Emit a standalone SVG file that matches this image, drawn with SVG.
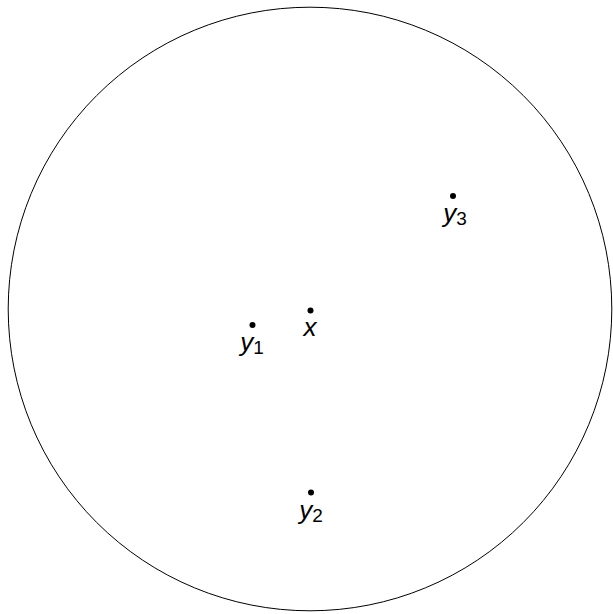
<svg xmlns="http://www.w3.org/2000/svg" width="613" height="614" viewBox="0 0 613 614">
<style>
.lbl{font-family:Arial,"Liberation Sans",sans-serif;font-style:italic;font-size:26px;fill:#000;text-anchor:middle}
.sub{font-style:normal;font-size:19px}
.dot{fill:#000}
</style>
<rect width="613" height="614" fill="#fff"/>
<circle cx="310" cy="309" r="301.8" fill="none" stroke="#000" stroke-width="1"/>
<g id="x"><circle class="dot" cx="310.5" cy="310.5" r="3"/><text class="lbl" x="310" y="336">x</text></g>
<g id="y1"><circle class="dot" cx="252.5" cy="325" r="3"/><text class="lbl" x="252" y="351">y<tspan class="sub" dy="3">1</tspan></text></g>
<g id="y2"><circle class="dot" cx="311" cy="492.5" r="3"/><text class="lbl" x="311" y="519">y<tspan class="sub" dy="3">2</tspan></text></g>
<g id="y3"><circle class="dot" cx="453" cy="196" r="3"/><text class="lbl" x="455" y="222">y<tspan class="sub" dy="3">3</tspan></text></g>
<g id="connectors"></g>
</svg>
